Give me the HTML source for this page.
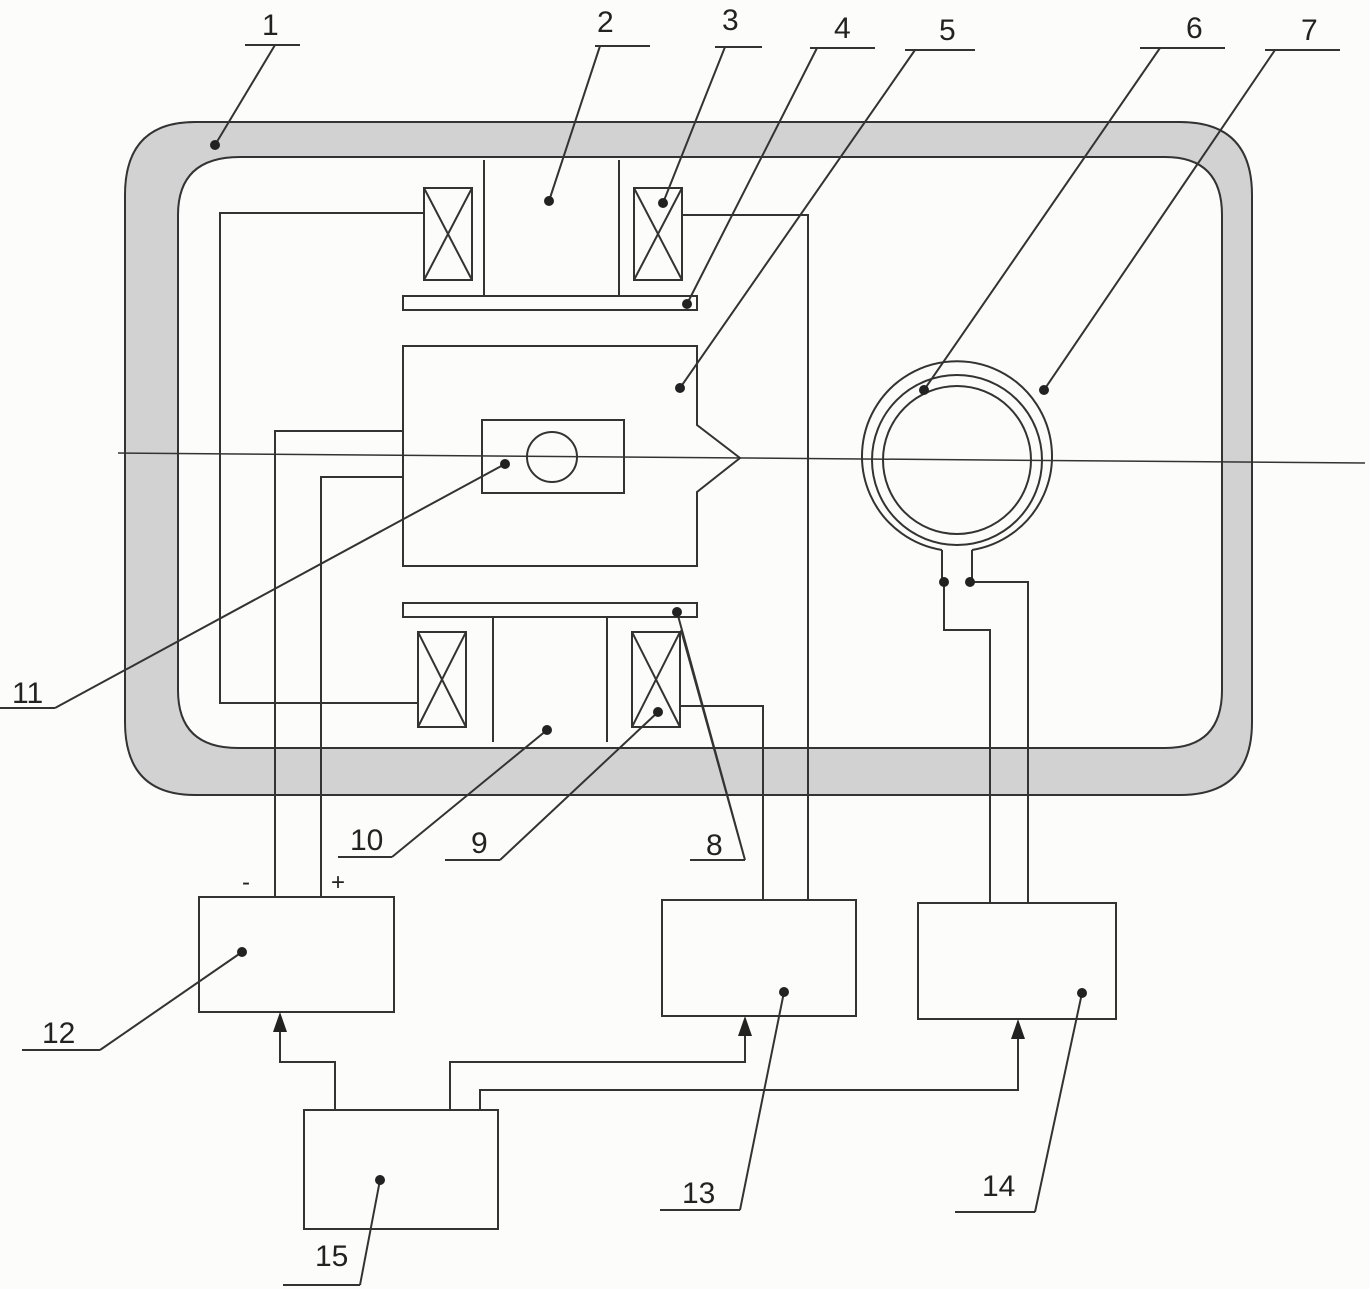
<!DOCTYPE html>
<html><head><meta charset="utf-8"><style>
html,body{margin:0;padding:0;background:#fcfcfa;}
svg{display:block;}
text{font-family:"Liberation Sans",sans-serif;font-size:30px;fill:#222;}
</style></head><body>
<svg width="1370" height="1289" viewBox="0 0 1370 1289" xmlns="http://www.w3.org/2000/svg">
<g stroke="#333" stroke-width="2" fill="none">
<path fill-rule="evenodd" fill="#d2d2d2" d="M195,122 H1180 Q1252,122 1252,195 V722 Q1252,795 1180,795 H195 Q125,795 125,722 V195 Q125,122 195,122 Z M240,157 H1165 Q1222,157 1222,215 V690 Q1222,748 1165,748 H238 Q178,748 178,690 V215 Q178,157 240,157 Z"/>
<line x1="118" y1="453" x2="1365" y2="463" stroke-width="1.5"/>
<rect x="424" y="188" width="48" height="92"/><path d="M424,188 L472,280 M472,188 L424,280"/>
<path d="M484,160 V296 M619,160 V296"/>
<rect x="634" y="188" width="48" height="92"/><path d="M634,188 L682,280 M682,188 L634,280"/>
<rect x="403" y="296" width="294" height="14"/>
<path d="M403,346 H697 V425 L740,458 L697,492 V566 H403 Z"/>
<rect x="482" y="420" width="142" height="73"/>
<circle cx="552" cy="457" r="25"/>
<rect x="403" y="603" width="294" height="14"/>
<rect x="418" y="632" width="48" height="95"/><path d="M418,632 L466,727 M466,632 L418,727"/>
<path d="M493,617 V742 M607,617 V742"/>
<rect x="632" y="632" width="48" height="95"/><path d="M632,632 L680,727 M680,632 L632,727"/>
<path d="M424,213 H220 V703 H418"/>
<path d="M682,215 H808 V900"/>
<path d="M680,706 H763 V900"/>
<path d="M403,431 H275 V897"/>
<path d="M403,477 H321 V897"/>
<path d="M942,550 A95,95 0 1 1 972,550" />
<circle cx="957" cy="460" r="85"/>
<circle cx="957" cy="460" r="74"/>
<path d="M942,550 V582 M972,550 V582"/>
<path d="M944,582 V630 H990 V903 M970,582 H1028 V903"/>
<rect x="199" y="897" width="195" height="115"/>
<rect x="662" y="900" width="194" height="116"/>
<rect x="918" y="903" width="198" height="116"/>
<rect x="304" y="1110" width="194" height="119"/>
<path d="M335,1110 V1062 H280 V1030"/>
<path d="M450,1110 V1062 H745 V1034"/>
<path d="M480,1110 V1090 H1018 V1036"/>
<path d="M215,145 L275,45 M245,45 H300"/>
<path d="M549,201 L600,46 M595,46 H650"/>
<path d="M663,203 L725,47 M715,47 H762"/>
<path d="M687,304 L817,48 M810,48 H875"/>
<path d="M680,388 L915,50 M905,50 H975"/>
<path d="M924,390 L1160,48 M1140,48 H1225"/>
<path d="M1044,390 L1275,50 M1265,50 H1340"/>
<path d="M677,612 L745,860 M681,630 L745,860 M690,860 H745"/>
<path d="M658,712 L500,860 M445,860 H500"/>
<path d="M547,730 L392,857 M338,857 H392"/>
<path d="M505,464 L55,708 M0,708 H55"/>
<path d="M242,952 L100,1050 M22,1050 H100"/>
<path d="M784,992 L740,1210 M660,1210 H740"/>
<path d="M1082,993 L1035,1212 M955,1212 H1035"/>
<path d="M380,1180 L360,1285 M283,1285 H360"/>
</g>
<g fill="#222">
<polygon points="280,1012 273,1032 287,1032"/>
<polygon points="745,1016 738,1036 752,1036"/>
<polygon points="1018,1019 1011,1039 1025,1039"/>
<circle cx="215" cy="145" r="5"/><circle cx="549" cy="201" r="5"/><circle cx="663" cy="203" r="5"/>
<circle cx="687" cy="304" r="5"/><circle cx="680" cy="388" r="5"/><circle cx="924" cy="390" r="5"/>
<circle cx="1044" cy="390" r="5"/><circle cx="677" cy="612" r="5"/><circle cx="658" cy="712" r="5"/>
<circle cx="547" cy="730" r="5"/><circle cx="505" cy="464" r="5"/><circle cx="242" cy="952" r="5"/>
<circle cx="784" cy="992" r="5"/><circle cx="1082" cy="993" r="5"/><circle cx="380" cy="1180" r="5"/>
<circle cx="944" cy="582" r="5"/><circle cx="970" cy="582" r="5"/>
</g>
<text x="262" y="35">1</text>
<text x="597" y="32">2</text>
<text x="722" y="30">3</text>
<text x="834" y="38">4</text>
<text x="939" y="40">5</text>
<text x="1186" y="38">6</text>
<text x="1301" y="40">7</text>
<text x="706" y="855">8</text>
<text x="471" y="853">9</text>
<text x="350" y="850">10</text>
<text x="12" y="703">11</text>
<text x="42" y="1043">12</text>
<text x="682" y="1203">13</text>
<text x="982" y="1196">14</text>
<text x="315" y="1266">15</text>
<text x="242" y="890" style="font-size:24px">-</text>
<text x="331" y="890" style="font-size:24px">+</text>
</svg>
</body></html>
